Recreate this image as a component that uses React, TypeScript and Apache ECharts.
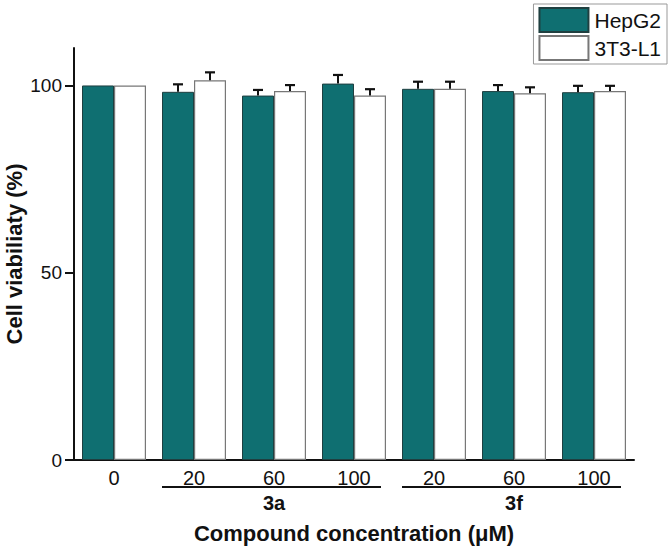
import React, { useEffect, useRef } from "react";
import * as echarts from "echarts";

const categories = ["0", "20", "60", "100", "20", "60", "100"];
const hepg2 = [100, 98.3, 97.3, 100.5, 99.1, 98.5, 98.2];
const hepg2Err = [0, 2.0, 1.5, 2.3, 1.9, 1.6, 1.7];
const l1 = [100, 101.4, 98.5, 97.3, 99.1, 97.9, 98.5];
const l1Err = [0, 2.1, 1.6, 1.7, 1.9, 1.6, 1.4];
const groups = [
  { name: "3a", from: 1, to: 3 },
  { name: "3f", from: 4, to: 6 },
];
const yTickValues = [0, 50, 100];
const yRange = { min: 0, max: 110 };

const TEAL = "#0f6f71";
const FONT = "Liberation Sans, Arial, sans-serif";

export default function App() {
  const ref = useRef<HTMLDivElement>(null);
  useEffect(() => {
    if (!ref.current) return;
    const chart = echarts.init(ref.current, null, { renderer: "svg" });

    const errSeries = (vals: number[], errs: number[], sign: number) => ({
      type: "custom",
      silent: true,
      z: 5,
      data: vals.map((v, i) => [i, v, errs[i]]),
      renderItem: (params: any, api: any) => {
        const i = api.value(0);
        const v = api.value(1);
        const e = api.value(2);
        if (!e) return null;
        const band = api.size([1, 0])[0];
        const base = api.coord([i, v]);
        const top = api.coord([i, v + e]);
        const x = base[0] + sign * band * 0.2;
        const cap = 5;
        return {
          type: "group",
          children: [
            {
              type: "line",
              shape: { x1: x, y1: base[1], x2: x, y2: top[1] },
              style: { stroke: "#111", lineWidth: 2 },
            },
            {
              type: "line",
              shape: { x1: x - cap, y1: top[1], x2: x + cap, y2: top[1] },
              style: { stroke: "#111", lineWidth: 2.2 },
            },
          ],
        };
      },
    });

    chart.setOption({
      animation: false,
      backgroundColor: "#fff",
      textStyle: { fontFamily: FONT },
      grid: { left: 74, right: 38, top: 48, bottom: 87, outerBoundsMode: "none" },
      legend: {
        right: 5,
        top: 4,
        orient: "vertical",
        itemWidth: 49,
        itemHeight: 24,
        itemGap: 2,
        padding: [3, 6, 3, 5],
        borderColor: "#999",
        borderWidth: 1,
        icon: "rect",
        textStyle: { fontSize: 21, color: "#111", fontFamily: FONT, padding: [0, 0, 0, 1] },
        data: ["HepG2", "3T3-L1"],
      },
      xAxis: {
        type: "category",
        data: categories,
        axisLine: { lineStyle: { color: "#111", width: 2 } },
        axisTick: { show: false },
        axisLabel: { fontSize: 20, color: "#111", margin: 8, fontFamily: FONT },
        name: "Compound concentration (μM)",
        nameLocation: "middle",
        nameGap: 62,
        nameMoveOverlap: false,
        nameTextStyle: { fontSize: 22, fontWeight: "bold", color: "#111", fontFamily: FONT },
      },
      yAxis: {
        type: "value",
        min: yRange.min,
        max: yRange.max,
        splitLine: { show: false },
        axisLine: { show: true, lineStyle: { color: "#111", width: 2 } },
        axisTick: {
          show: true,
          inside: false,
          length: 9,
          customValues: yTickValues,
          lineStyle: { color: "#111", width: 2 },
        },
        axisLabel: {
          fontSize: 19,
          color: "#111",
          margin: 12,
          fontFamily: FONT,
          customValues: yTickValues,
        },
        name: "Cell viabiliaty (%)",
        nameLocation: "middle",
        nameGap: 49,
        nameMoveOverlap: false,
        nameTextStyle: { fontSize: 22, fontWeight: "bold", color: "#111", fontFamily: FONT },
      },
      series: [
        {
          name: "HepG2",
          type: "bar",
          data: hepg2,
          barGap: "0%",
          barCategoryGap: "20%",
          itemStyle: { color: TEAL, borderColor: "#1f3f40", borderWidth: 1 },
        },
        {
          name: "3T3-L1",
          type: "bar",
          data: l1,
          itemStyle: { color: "#ffffff", borderColor: "#777", borderWidth: 1.2 },
        },
        errSeries(hepg2, hepg2Err, -1),
        errSeries(l1, l1Err, 1),
      ],
    });

    const graphics: any[] = [];
    groups.forEach((g) => {
      const a = chart.convertToPixel({ xAxisIndex: 0 }, g.from) as number;
      const b = chart.convertToPixel({ xAxisIndex: 0 }, g.to) as number;
      const y0 = chart.convertToPixel({ yAxisIndex: 0 }, 0) as number;
      const x1 = a - 32;
      const x2 = b + 27;
      graphics.push({
        type: "line",
        shape: { x1, y1: y0 + 27, x2, y2: y0 + 27 },
        style: { stroke: "#111", lineWidth: 2 },
      });
      graphics.push({
        type: "text",
        x: (a + b) / 2,
        y: y0 + 43,
        style: {
          text: g.name,
          fontSize: 20,
          fontWeight: "bold",
          fontFamily: FONT,
          fill: "#111",
          align: "center",
          verticalAlign: "middle",
        },
      });
    });
    chart.setOption({ graphic: graphics });

    return () => chart.dispose();
  }, []);
  return (
    <div
      ref={ref}
      style={{ position: "fixed", left: 0, top: 0, width: 672, height: 547 }}
    />
  );
}
